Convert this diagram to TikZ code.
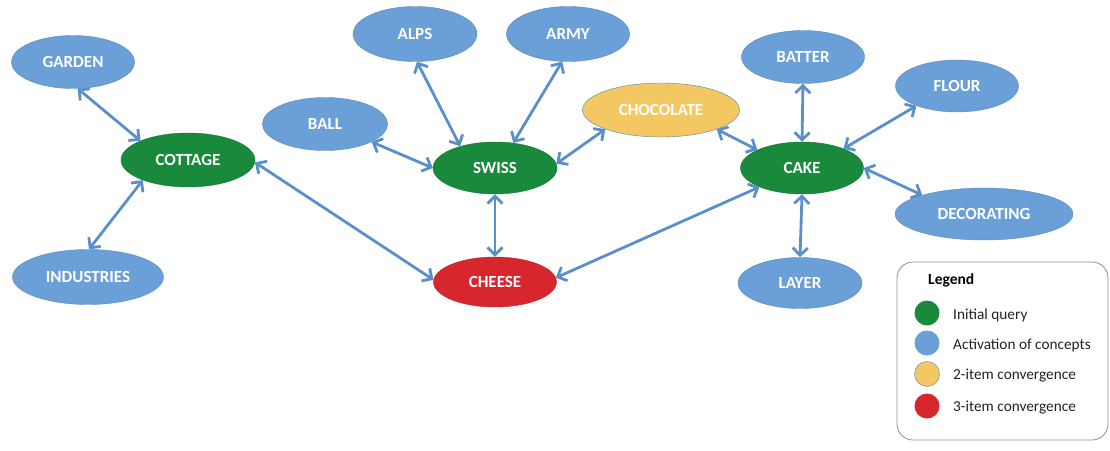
\documentclass[tikz,border=0pt]{standalone}
\usepackage{fontspec}
\setmainfont{Carlito}
\usetikzlibrary{shapes.geometric,arrows.meta}
\definecolor{nblue}{HTML}{6A9FD8}
\definecolor{ngreen}{HTML}{198A3C}
\definecolor{nred}{HTML}{D8262E}
\definecolor{nyellow}{HTML}{F3C862}
\definecolor{ecol}{HTML}{5B8FCB}
\definecolor{legborder}{HTML}{9088AE}
\definecolor{ltext}{HTML}{222222}
\begin{document}
\begin{tikzpicture}[x=1pt,y=-1pt,
  concept/.style={ellipse, fill=nblue, draw=nblue!85!black, line width=0.4pt,
    minimum width=124pt, minimum height=53pt, inner sep=0pt, text=white,
    font=\fontsize{17}{17}\selectfont\bfseries},
  query/.style={concept, fill=ngreen, draw=ngreen!85!black},
  conv2/.style={concept, fill=nyellow, draw=nblue!80!black},
  conv3/.style={concept, fill=nred, draw=nred!85!black},
  link/.style={draw=ecol, line width=2.8pt,
    {Straight Barb[length=7.5pt,width=15pt]}-{Straight Barb[length=7.5pt,width=15pt]}},
  legdot/.style={circle, minimum size=25pt, inner sep=0pt},
  legtext/.style={anchor=west, text=ltext, font=\fontsize{15.3}{15.3}\selectfont, inner sep=0pt}
]
\useasboundingbox (0,0) rectangle (1110,450);

% nodes
\node[concept, minimum width=123pt] (garden) at (73,62) {GARDEN};
\node[query, minimum width=134pt, minimum height=54pt] (cottage) at (188,160) {COTTAGE};
\node[concept, minimum width=151pt, minimum height=55pt] (industries) at (88,277) {INDUSTRIES};
\node[concept, minimum width=125pt] (ball) at (325,124) {BALL};
\node[concept, minimum height=55pt] (alps) at (415,34) {ALPS};
\node[concept, minimum width=123pt, minimum height=55pt] (army) at (568,34) {ARMY};
\node[query, minimum height=52pt] (swiss) at (495,168) {SWISS};
\node[conv2, minimum width=157pt, minimum height=54pt] (chocolate) at (661,110) {CHOCOLATE};
\node[query, minimum width=123pt, minimum height=52pt] (cake) at (802,168) {CAKE};
\node[concept, minimum width=123pt] (batter) at (803,57) {BATTER};
\node[concept, minimum width=123pt, minimum height=52pt] (flour) at (957,86) {FLOUR};
\node[concept, minimum width=178pt, minimum height=52pt] (decorating) at (984,214) {DECORATING};
\node[concept, minimum height=51pt] (layer) at (800,283) {LAYER};
\node[conv3, minimum width=123pt, minimum height=50pt] (cheese) at (495,282) {CHEESE};

% connectors
\draw[link] (garden.-80) -- (cottage.158);
\draw[link] (industries.88) -- (cottage.204);
\draw[link] (cottage.-2) -- (cheese.178);
\draw[link] (ball.-21) -- (swiss.180);
\draw[link] (alps.-86) -- (swiss.148);
\draw[link] (army.-102) -- (swiss.54);
\draw[link] (swiss.4) -- (chocolate.199);
\draw[link] (swiss.south) -- (cheese.north);
\draw[link] (chocolate.-19) -- (cake.158);
\draw[link] (cheese.4) -- (cake.204);
\draw[link] (batter.south) -- (cake.north);
\draw[link] (flour.206) -- (cake.25);
\draw[link] (cake.0) -- (decorating.163);
\draw[link] (cake.south) -- (layer.north);

% legend
\node[draw=legborder, line width=0.8pt, rounded corners=16pt, minimum width=211pt, minimum height=178pt, inner sep=0pt] (legend) at (1002.5,351) {};
\node[anchor=west, inner sep=0pt, text=black, font=\fontsize{15.5}{15.5}\selectfont\bfseries] (legtitle) at (928,280) {Legend};
\node[legdot, fill=ngreen] (d1) at (927,313) {};
\node[legdot, fill=nblue] (d2) at (927,343) {};
\node[legdot, fill=nyellow, draw=nblue!80!black, line width=0.4pt] (d3) at (927,374) {};
\node[legdot, fill=nred] (d4) at (927,406) {};
\node[legtext] (t1) at (953,315) {Initial query};
\node[legtext] (t2) at (953,345) {Activation of concepts};
\node[legtext] (t3) at (953,376) {2-item convergence};
\node[legtext] (t4) at (953,408) {3-item convergence};
\end{tikzpicture}
\end{document}
